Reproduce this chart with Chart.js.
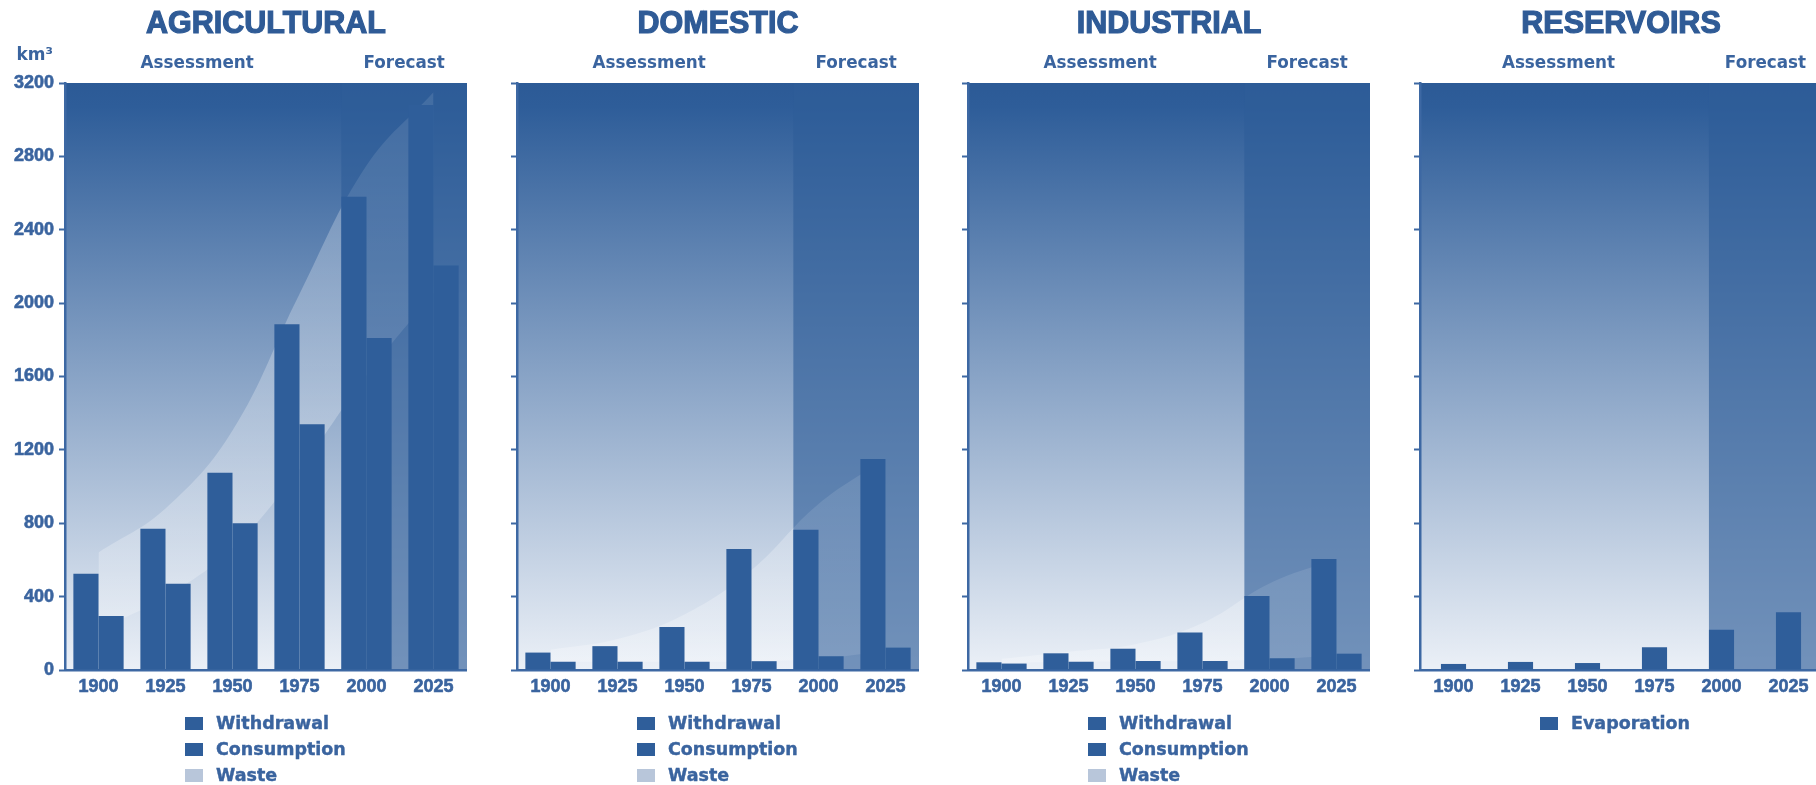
<!DOCTYPE html>
<html>
<head>
<meta charset="utf-8">
<script src="https://cdn.jsdelivr.net/npm/chart.js@4.4.1/dist/chart.umd.min.js"></script>
<style>
  html, body { margin: 0; padding: 0; background: #fff; }
  body { position: relative; width: 1816px; height: 785px; overflow: hidden; }
  .panel { position: absolute; top: 0; width: 467px; height: 785px; }
  .legend { position: absolute; top: 710px; font: bold 17.5px "DejaVu Sans", sans-serif; color: #3a649f;
            -webkit-text-stroke: 0.4px #3a649f; }
  .legend .row { position: relative; height: 26px; line-height: 26px; padding-left: 31px; white-space: nowrap; }
  .legend .key { position: absolute; left: 0; top: 7px; width: 18px; height: 13px; }
</style>
</head>
<body>
<canvas id="agri" class="panel" width="467" height="785"></canvas>
<canvas id="dom" class="panel" width="467" height="785"></canvas>
<canvas id="ind" class="panel" width="467" height="785"></canvas>
<canvas id="res" class="panel" width="467" height="785"></canvas>

<script>
const years = ['1900', '1925', '1950', '1975', '2000', '2025'];
const forecastFrom = '2000';
const yMin = 0, yMax = 3200, yStep = 400;

// km3 per year
const agriWithdrawal = [525, 770, 1075, 1885, 2580, 3080];
const agriConsumption = [295, 470, 800, 1340, 1810, 2205];
const domWithdrawal = [95, 130, 235, 660, 765, 1150];
const domConsumption = [45, 45, 45, 48, 75, 122];
const indWithdrawal = [42, 91, 116, 205, 403, 605];
const indConsumption = [35, 45, 49, 49, 64, 89];
const resEvaporation = [33, 44, 38, 124, 220, 315];

// the smooth "waste" band behind the bars: its upper and lower edge at each year
const agriWasteTop = [640, 880, 1305, 2050, 2750, 3150];
const agriWasteBase = [220, 400, 665, 1095, 1605, 2055];
const domWasteTop = [111, 169, 303, 545, 905, 1152];
const domWasteBase = [45, 45, 45, 48, 62, 104];
const indWasteTop = [61, 100, 141, 256, 472, 605];
const indWasteBase = [38, 45, 48, 49, 58, 80];

const COLORS = {
  title: '#2f5b96',
  text: '#3a649f',
  axis: '#3d68a3',
  bar: '#2f5e9a',
  wasteKey: '#b8c6da',
  forecast: 'rgba(46, 93, 153, 0.645)'
};

function forecastEdge(chart) {
  const i = chart.data.labels.indexOf(forecastFrom);
  const bar = chart.getDatasetMeta(0).data[i];
  return bar.x - bar.width / 2;
}

// band is lighter over the assessment part, fainter over the forecast shade
function wasteFill(context) {
  const chart = context.chart;
  const a = chart.chartArea;
  if (!a) return 'rgba(255, 255, 255, 0.25)';
  const stop = (forecastEdge(chart) - a.left) / (a.right - a.left);
  const g = chart.ctx.createLinearGradient(a.left, 0, a.right, 0);
  g.addColorStop(0, 'rgba(255, 255, 255, 0.25)');
  g.addColorStop(stop, 'rgba(255, 255, 255, 0.25)');
  g.addColorStop(stop, 'rgba(255, 255, 255, 0.1)');
  g.addColorStop(1, 'rgba(255, 255, 255, 0.1)');
  return g;
}

const backdrop = {
  id: 'backdrop',
  beforeDraw(chart) {
    const { ctx, chartArea: a } = chart;
    const split = forecastEdge(chart);
    ctx.save();
    const bg = ctx.createLinearGradient(0, a.top, 0, a.bottom);
    bg.addColorStop(0, '#2c5a96');
    bg.addColorStop(0.04, '#2e5d99');
    bg.addColorStop(1, '#ebf0f7');
    ctx.fillStyle = bg;
    ctx.fillRect(a.left, a.top, a.right - a.left, a.bottom - a.top);
    ctx.fillStyle = COLORS.forecast;
    ctx.fillRect(split, a.top, a.right - split, a.bottom - a.top);
    ctx.restore();
  },
  afterDraw(chart, args, opts) {
    const { ctx, chartArea: a } = chart;
    const split = forecastEdge(chart);
    ctx.save();
    ctx.textAlign = 'center';
    ctx.textBaseline = 'middle';

    ctx.fillStyle = COLORS.title;
    ctx.strokeStyle = COLORS.title;
    ctx.lineWidth = 1.2;
    ctx.font = 'bold 30.5px "Liberation Sans", Arial, sans-serif';
    ctx.fillText(opts.title, (a.left + a.right) / 2, 25);
    ctx.strokeText(opts.title, (a.left + a.right) / 2, 25);

    ctx.fillStyle = COLORS.text;
    ctx.font = 'bold 16.8px "DejaVu Sans"';
    ctx.fillText('Assessment', (a.left + split) / 2 - 6, 64);
    ctx.fillText('Forecast', (split + a.right) / 2, 64);
    if (opts.unit) {
      ctx.font = 'bold 17px "DejaVu Sans"';
      ctx.textAlign = 'right';
      ctx.fillText(opts.unit, a.left - 12, 56);
    }
    ctx.restore();
  }
};

function barSet(label, data) {
  return { type: 'bar', label: label, data: data, backgroundColor: COLORS.bar, legendColor: COLORS.bar, order: 1 };
}

function wasteBand(top, base) {
  return [
    { type: 'line', label: 'Waste', data: top, fill: '+1', backgroundColor: wasteFill,
      legendColor: COLORS.wasteKey, borderWidth: 0, pointRadius: 0, tension: 0.4, order: 3 },
    { type: 'line', data: base, fill: false, borderWidth: 0, pointRadius: 0, tension: 0.4, order: 4 }
  ];
}

function makePanel(id, left, title, datasets, groupShare, unit) {
  const canvas = document.getElementById(id);
  canvas.style.left = (left - 65) + 'px';
  const font = { family: '"Liberation Sans", Arial, sans-serif', weight: 'bold', size: 18 };

  const chart = new Chart(canvas, {
    type: 'bar',
    data: { labels: years, datasets: datasets },
    options: {
      responsive: false,
      animation: false,
      events: [],
      layout: { padding: { top: 83, left: 0, right: 0, bottom: 0 } },
      datasets: { bar: { barPercentage: 1, categoryPercentage: groupShare } },
      plugins: {
        legend: { display: false },
        tooltip: { enabled: false },
        title: { display: false },
        filler: { drawTime: 'beforeDatasetsDraw' },
        backdrop: { title: title, unit: unit }
      },
      scales: {
        x: {
          z: 1,
          grid: { display: false, drawTicks: false },
          border: { display: true, color: COLORS.axis, width: 2.5 },
          ticks: { color: COLORS.text, font: font, padding: 6, maxRotation: 0,
                   textStrokeColor: COLORS.text, textStrokeWidth: 0.6 },
          afterFit(scale) { scale.height = 115; }
        },
        y: {
          z: 1,
          min: yMin,
          max: yMax,
          grid: { drawOnChartArea: false, drawTicks: true, tickLength: 6, tickColor: COLORS.axis, tickWidth: 2 },
          border: { display: true, color: COLORS.axis, width: 2.5 },
          ticks: { stepSize: yStep, display: !!unit, color: COLORS.text, font: font, padding: 5,
                   textStrokeColor: COLORS.text, textStrokeWidth: 0.6,
                   callback: v => String(v) },
          afterFit(scale) { scale.width = 65; }
        }
      }
    },
    plugins: [backdrop]
  });

  const legend = document.createElement('div');
  legend.className = 'legend';
  legend.style.left = (left + 120) + 'px';
  chart.data.datasets.filter(d => d.label).forEach(d => {
    const row = document.createElement('div');
    row.className = 'row';
    const key = document.createElement('span');
    key.className = 'key';
    key.style.background = d.legendColor;
    row.appendChild(key);
    row.appendChild(document.createTextNode(d.label));
    legend.appendChild(row);
  });
  document.body.appendChild(legend);
  return chart;
}

makePanel('agri', 65, 'AGRICULTURAL',
  [barSet('Withdrawal', agriWithdrawal), barSet('Consumption', agriConsumption), ...wasteBand(agriWasteTop, agriWasteBase)],
  0.75, 'km³');
makePanel('dom', 517, 'DOMESTIC',
  [barSet('Withdrawal', domWithdrawal), barSet('Consumption', domConsumption), ...wasteBand(domWasteTop, domWasteBase)],
  0.75);
makePanel('ind', 968, 'INDUSTRIAL',
  [barSet('Withdrawal', indWithdrawal), barSet('Consumption', indConsumption), ...wasteBand(indWasteTop, indWasteBase)],
  0.75);
makePanel('res', 1420, 'RESERVOIRS',
  [barSet('Evaporation', resEvaporation)],
  0.375);
</script>
</body>
</html>
